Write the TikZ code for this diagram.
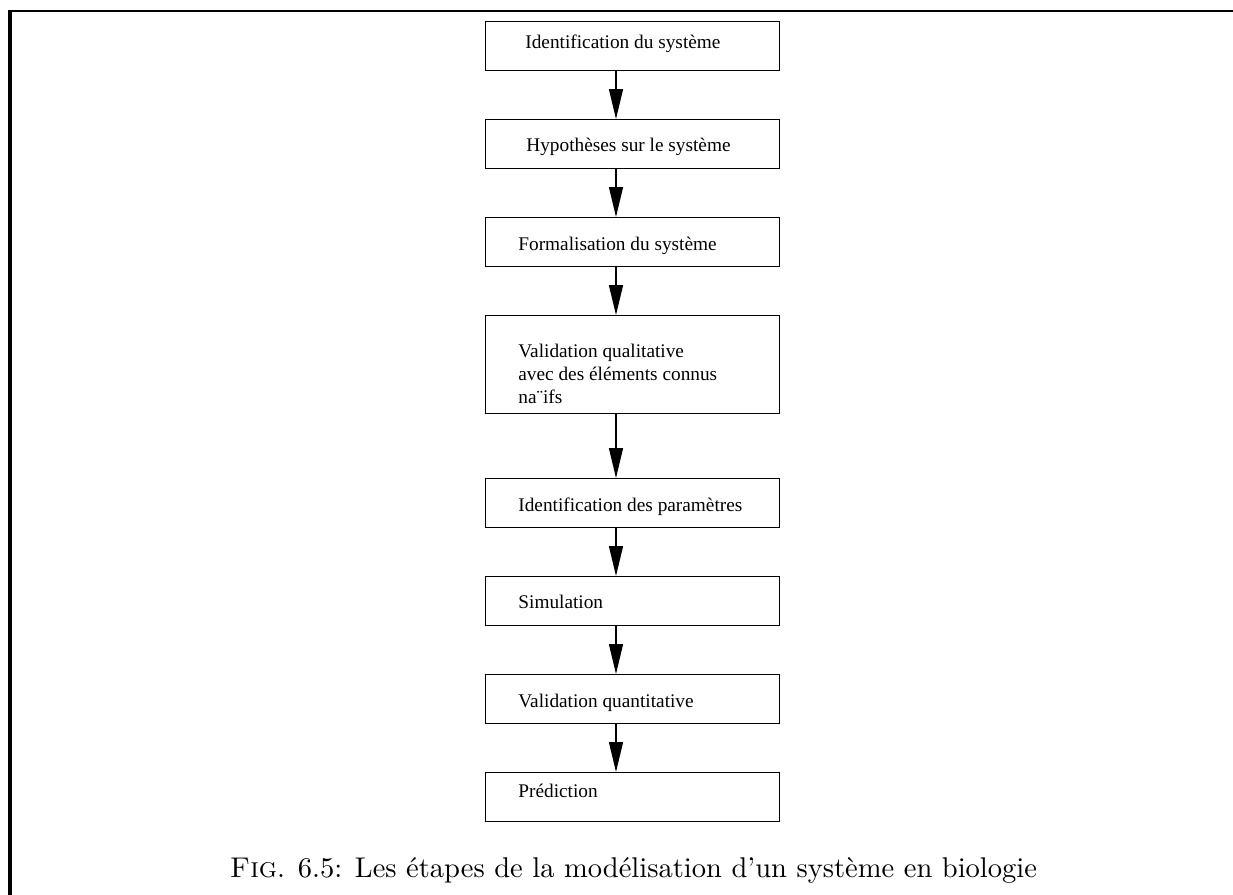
\documentclass[tikz,border=0pt]{standalone}
\usepackage{fontspec}
\usepackage{graphicx}
\usetikzlibrary{arrows.meta}
\newfontfamily\boxfont{Liberation Serif}

\tikzset{
  stepbox/.style={draw=black, line width=0.5pt, inner sep=0pt, outer sep=0pt,
    minimum width=147pt, minimum height=24.5pt},
  steptext/.style={anchor=base west, inner sep=0pt, align=left,
    font=\boxfont\fontsize{9.65pt}{11.5pt}\selectfont},
  flow/.style={line width=0.75pt,
    -{Triangle[length=15pt,width=7pt]}},
  frameline/.style={line cap=butt}
}

\begin{document}
\begin{tikzpicture}[x=0.5pt,y=-0.5pt]
  \useasboundingbox (0,0) rectangle (1233,895);

  % frame around the figure
  \draw[frameline, line width=1.15pt] (10,11.2) -- (1233,11.2);
  \draw[frameline, line width=2pt] (10,10) -- (10,895);

  % arrow axis
  \coordinate (ax) at (616,0);

  % steps
  \node[stepbox] (b1) at (632,46) {};
  \node[steptext] (t1) at (525,48) {Identification du système};

  \node[stepbox] (b2) at (632,143.5) {};
  \node[steptext] (t2) at (526,151) {Hypothèses sur le système};

  \node[stepbox] (b3) at (632,241.5) {};
  \node[steptext] (t3) at (518,250) {Formalisation du système};

  % three-line step: the base anchor sits on the last line
  \node[stepbox, minimum height=49pt] (b4) at (632,364) {};
  \node[steptext] (t4) at (518,403) {Validation qualitative\\avec des éléments connus\\na¨ifs};

  \node[stepbox] (b5) at (632,502.5) {};
  \node[steptext] (t5) at (518,511) {Identification des paramètres};

  \node[stepbox] (b6) at (632,600.5) {};
  \node[steptext] (t6) at (518,608) {Simulation};

  \node[stepbox] (b7) at (632,698.5) {};
  \node[steptext] (t7) at (518,707) {Validation quantitative};

  \node[stepbox] (b8) at (632,796.5) {};
  \node[steptext] (t8) at (518,797) {Prédiction};

  % connectors
  \draw[flow] (b1.south -| ax) -- (b2.north -| ax);
  \draw[flow] (b2.south -| ax) -- (b3.north -| ax);
  \draw[flow] (b3.south -| ax) -- (b4.north -| ax);
  \draw[flow] (b4.south -| ax) -- (b5.north -| ax);
  \draw[flow] (b5.south -| ax) -- (b6.north -| ax);
  \draw[flow] (b6.south -| ax) -- (b7.north -| ax);
  \draw[flow] (b7.south -| ax) -- (b8.north -| ax);

  % caption
  \node[anchor=base, inner sep=0pt] (cap) at (633.5,877)
    {\resizebox{403.5pt}{!}{\textsc{Fig}. 6.5: Les étapes de la modélisation d'un système en biologie}};
\end{tikzpicture}
\end{document}
